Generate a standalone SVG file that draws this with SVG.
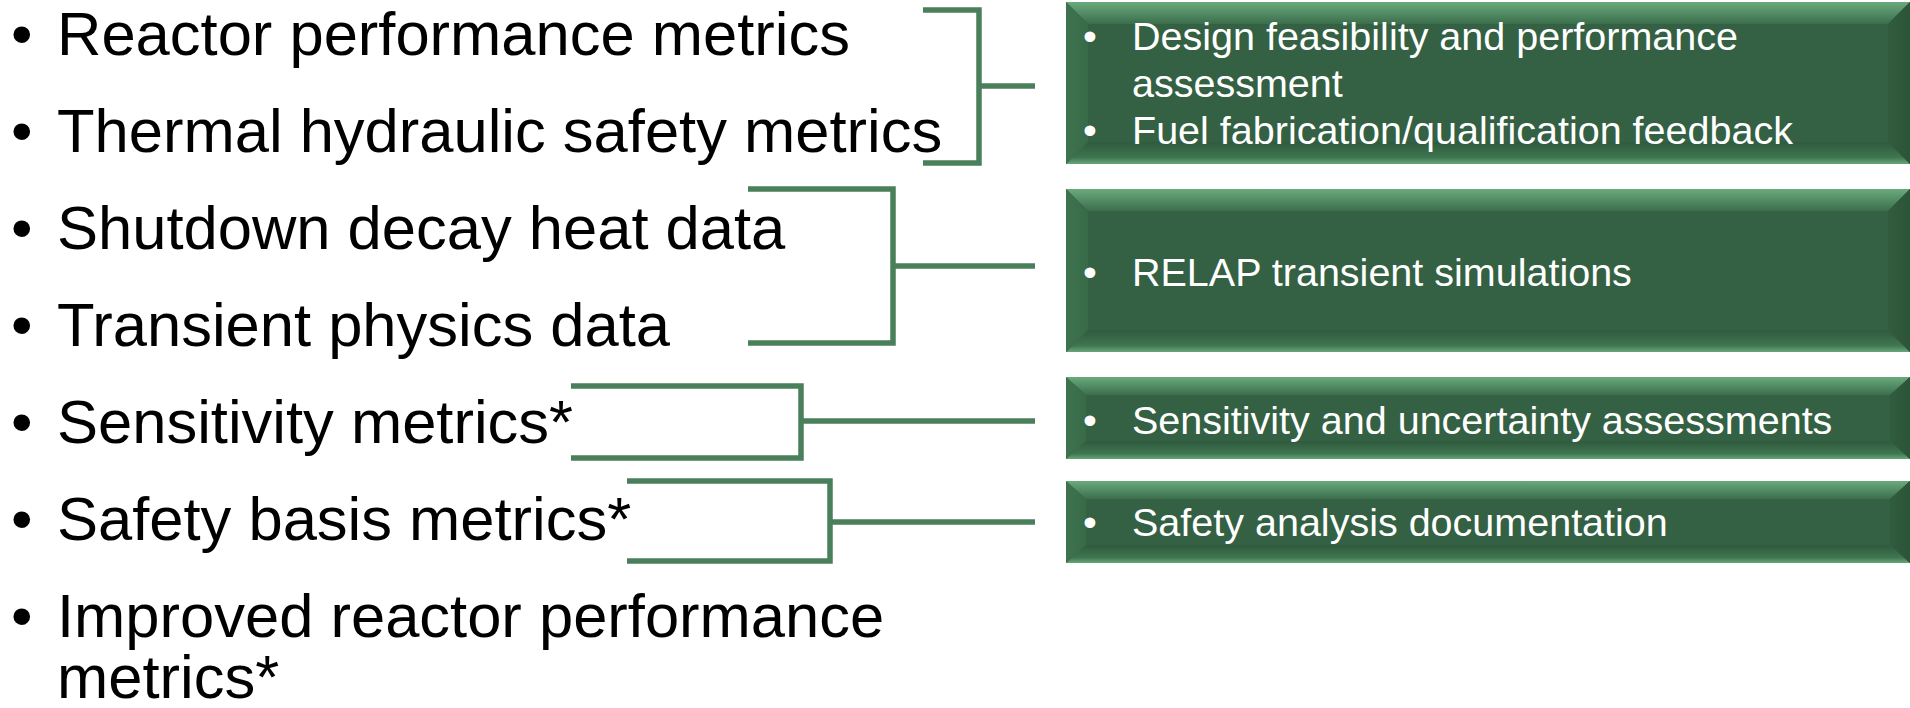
<svg xmlns="http://www.w3.org/2000/svg" width="1910" height="708" viewBox="0 0 1910 708">
  <defs>
    <linearGradient id="gTop" x1="0" y1="0" x2="0" y2="1">
      <stop offset="0" stop-color="#6aaa7d"/>
      <stop offset="1" stop-color="#3c6e4c"/>
    </linearGradient>
    <linearGradient id="gBot" x1="0" y1="0" x2="0" y2="1">
      <stop offset="0" stop-color="#2f5a3d"/>
      <stop offset="0.7" stop-color="#3f7550"/>
      <stop offset="1" stop-color="#68a67a"/>
    </linearGradient>
    <linearGradient id="gLeft" x1="0" y1="0" x2="1" y2="0">
      <stop offset="0" stop-color="#3f7350"/>
      <stop offset="1" stop-color="#386a47"/>
    </linearGradient>
    <linearGradient id="gRight" x1="0" y1="0" x2="1" y2="0">
      <stop offset="0" stop-color="#315c3e"/>
      <stop offset="1" stop-color="#2c5438"/>
    </linearGradient>
  </defs>
  <style>
    .item { font-family: "Liberation Sans", Arial, sans-serif; font-size: 61.5px; fill: #000000; }
    .box { fill: #346043; }
    .btext { font-family: "Liberation Sans", Arial, sans-serif; font-size: 39.5px; fill: #ffffff; }
    .conn { fill: none; stroke: #4a7f5b; stroke-width: 5.5; stroke-linecap: butt; stroke-linejoin: miter; }
  </style>
  <rect width="1910" height="708" fill="#ffffff"/>

  <g id="left-items">
    <g id="item-reactor"><text class="item" x="11" y="55">•</text><text class="item" x="57" y="55">Reactor performance metrics</text></g>
    <g id="item-thermal"><text class="item" x="11" y="152">•</text><text class="item" x="57" y="152">Thermal hydraulic safety metrics</text></g>
    <g id="item-shutdown"><text class="item" x="11" y="249">•</text><text class="item" x="57" y="249">Shutdown decay heat data</text></g>
    <g id="item-transient"><text class="item" x="11" y="346">•</text><text class="item" x="57" y="346">Transient physics data</text></g>
    <g id="item-sensitivity"><text class="item" x="11" y="443">•</text><text class="item" x="57" y="443">Sensitivity metrics*</text></g>
    <g id="item-safety"><text class="item" x="11" y="540">•</text><text class="item" x="57" y="540">Safety basis metrics*</text></g>
    <g id="item-improved"><text class="item" x="11" y="637">•</text><text class="item" x="57" y="637">Improved reactor performance</text><text class="item" x="57" y="698">metrics*</text></g>
  </g>

  <g id="connectors">
    <path class="conn" d="M923,10 H979 V163 H923 M979,86 H1035"/>
    <path class="conn" d="M748,189 H893 V343 H748 M893,266 H1035"/>
    <path class="conn" d="M571,386 H801 V458 H571 M801,421 H1035"/>
    <path class="conn" d="M627,481 H830 V561 H627 M830,522 H1035"/>
  </g>

  <g id="box-design">
    <rect class="box" x="1066" y="2" width="844" height="162"/>
    <polygon points="1066,2 1910,2 1888,24 1088,24" fill="url(#gTop)"/>
    <polygon points="1066,164 1910,164 1888,142 1088,142" fill="url(#gBot)"/>
    <polygon points="1066,2 1088,24 1088,142 1066,164" fill="url(#gLeft)"/>
    <polygon points="1910,2 1888,24 1888,142 1910,164" fill="url(#gRight)"/>
    <text class="btext" x="1083" y="50">•</text><text class="btext" x="1132" y="50">Design feasibility and performance</text>
    <text class="btext" x="1132" y="97">assessment</text>
    <text class="btext" x="1083" y="144">•</text><text class="btext" x="1132" y="144">Fuel fabrication/qualification feedback</text>
  </g>

  <g id="box-relap">
    <rect class="box" x="1066" y="189" width="844" height="163"/>
    <polygon points="1066,189 1910,189 1888,211 1088,211" fill="url(#gTop)"/>
    <polygon points="1066,352 1910,352 1888,330 1088,330" fill="url(#gBot)"/>
    <polygon points="1066,189 1088,211 1088,330 1066,352" fill="url(#gLeft)"/>
    <polygon points="1910,189 1888,211 1888,330 1910,352" fill="url(#gRight)"/>
    <text class="btext" x="1083" y="286">•</text><text class="btext" x="1132" y="286">RELAP transient simulations</text>
  </g>

  <g id="box-sensitivity">
    <rect class="box" x="1066" y="377" width="844" height="82"/>
    <polygon points="1066,377 1910,377 1890,395 1086,395" fill="url(#gTop)"/>
    <polygon points="1066,459 1910,459 1890,441 1086,441" fill="url(#gBot)"/>
    <polygon points="1066,377 1086,395 1086,441 1066,459" fill="url(#gLeft)"/>
    <polygon points="1910,377 1890,395 1890,441 1910,459" fill="url(#gRight)"/>
    <text class="btext" x="1083" y="434">•</text><text class="btext" x="1132" y="434">Sensitivity and uncertainty assessments</text>
  </g>

  <g id="box-safety">
    <rect class="box" x="1066" y="481" width="844" height="82"/>
    <polygon points="1066,481 1910,481 1890,499 1086,499" fill="url(#gTop)"/>
    <polygon points="1066,563 1910,563 1890,545 1086,545" fill="url(#gBot)"/>
    <polygon points="1066,481 1086,499 1086,545 1066,563" fill="url(#gLeft)"/>
    <polygon points="1910,481 1890,499 1890,545 1910,563" fill="url(#gRight)"/>
    <text class="btext" x="1083" y="536">•</text><text class="btext" x="1132" y="536">Safety analysis documentation</text>
  </g>
</svg>
